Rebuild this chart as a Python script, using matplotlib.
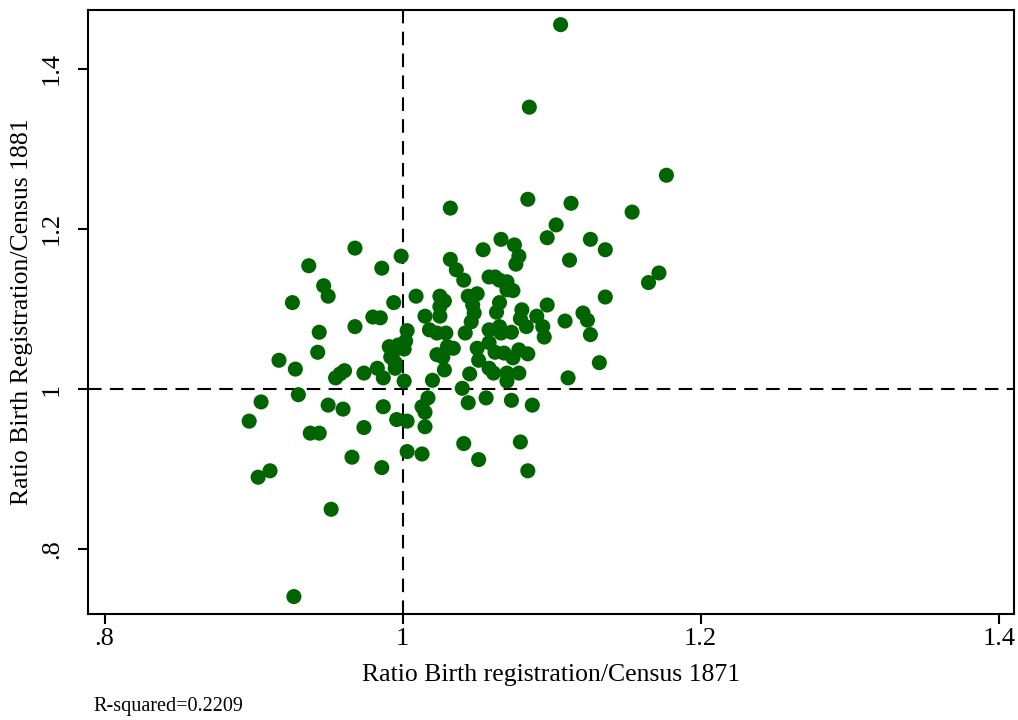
import numpy as np
import matplotlib.pyplot as plt

plt.rcParams['font.family'] = ['Liberation Serif', 'DejaVu Serif']

# ratio of birth registrations to census counts, per district
ratio_1871 = [
    1.106, 1.085, 1.177, 1.084, 1.032, 1.113, 1.103, 1.154, 1.097, 1.066,
    1.075, 1.126, 1.136, 1.054, 0.968, 0.999, 0.937, 0.986, 1.078, 1.076,
    1.112, 1.032, 1.036, 1.041, 1.058, 1.062, 1.065, 1.070, 1.074, 1.070,
    1.172, 1.165, 0.947, 0.950, 0.926, 1.009, 0.994, 0.980, 0.985, 0.968,
    0.944, 1.003, 1.025, 1.028, 1.025, 1.025, 1.044, 1.050, 1.047, 1.048,
    1.046, 1.065, 1.063, 1.097, 1.136, 1.015, 1.080, 1.079, 1.083, 1.090,
    1.094, 1.095, 1.109, 1.121, 1.124, 1.126, 1.018, 1.023, 1.029, 1.042,
    1.058, 1.065, 1.066, 1.073, 1.058, 1.062, 1.050, 1.051, 1.030, 1.034,
    1.023, 1.027, 1.028, 1.068, 1.078, 1.084, 1.074, 1.132, 1.045, 1.058,
    1.061, 1.070, 1.070, 1.078, 1.020, 1.111, 1.040, 1.044, 1.056, 1.073,
    1.087, 1.017, 1.015, 1.015, 1.013, 0.991, 0.997, 1.002, 1.001, 0.993,
    0.992, 0.995, 0.943, 0.917, 0.928, 0.961, 0.958, 0.955, 0.974, 0.983,
    0.987, 0.995, 1.001, 0.905, 0.930, 0.950, 0.960, 0.987, 0.897, 0.996,
    1.003, 0.974, 0.938, 0.944, 1.041, 1.079, 1.003, 1.013, 0.966, 1.051,
    0.911, 0.903, 0.986, 1.084, 0.952, 0.927,
]
ratio_1881 = [
    1.455, 1.352, 1.267, 1.237, 1.226, 1.232, 1.205, 1.221, 1.189, 1.187,
    1.180, 1.187, 1.174, 1.174, 1.176, 1.166, 1.154, 1.151, 1.166, 1.156,
    1.161, 1.162, 1.149, 1.136, 1.140, 1.140, 1.136, 1.134, 1.123, 1.124,
    1.145, 1.133, 1.129, 1.116, 1.108, 1.116, 1.108, 1.090, 1.089, 1.078,
    1.071, 1.073, 1.116, 1.110, 1.103, 1.091, 1.116, 1.119, 1.105, 1.095,
    1.084, 1.108, 1.096, 1.105, 1.115, 1.091, 1.099, 1.088, 1.078, 1.091,
    1.078, 1.065, 1.085, 1.095, 1.086, 1.068, 1.074, 1.070, 1.070, 1.070,
    1.074, 1.078, 1.070, 1.071, 1.058, 1.046, 1.051, 1.036, 1.053, 1.051,
    1.043, 1.040, 1.024, 1.045, 1.049, 1.044, 1.039, 1.033, 1.019, 1.026,
    1.020, 1.020, 1.010, 1.020, 1.011, 1.014, 1.001, 0.983, 0.989, 0.986,
    0.980, 0.989, 0.971, 0.953, 0.978, 1.053, 1.055, 1.060, 1.050, 1.043,
    1.040, 1.033, 1.046, 1.036, 1.025, 1.023, 1.019, 1.014, 1.020, 1.026,
    1.014, 1.026, 1.010, 0.984, 0.993, 0.980, 0.975, 0.978, 0.960, 0.962,
    0.960, 0.952, 0.945, 0.945, 0.932, 0.934, 0.922, 0.919, 0.915, 0.912,
    0.898, 0.890, 0.902, 0.898, 0.850, 0.741,
]
r_squared = 0.2209

tick_vals = [0.8, 1.0, 1.2, 1.4]
tick_labels = ['.8', '1', '1.2', '1.4']

fig = plt.figure(figsize=(10.18, 7.2), dpi=100)
ax = fig.add_axes([0.0864, 0.1472, 0.9097, 0.8389])

ax.scatter(ratio_1871, ratio_1881, s=118, color='#006400', edgecolors='none', zorder=3)

# reference lines at ratio = 1
ax.axvline(1, color='black', lw=1.5, dashes=(6.5, 4), zorder=2)
ax.axhline(1, color='black', lw=1.5, dashes=(6.5, 4), zorder=2)

ax.set_xlim(0.7888, 1.4103)
ax.set_ylim(0.7192, 1.4733)

ax.set_xticks(tick_vals)
ax.set_xticklabels(tick_labels)
ax.set_yticks(tick_vals)
ax.set_yticklabels(tick_labels, rotation=90, va='center')

ax.tick_params(axis='both', direction='out', length=7, width=1.5, labelsize=19)
ax.tick_params(axis='x', pad=3)
ax.tick_params(axis='y', pad=11)
for sp in ax.spines.values():
    sp.set_linewidth(1.5)

ax.set_xlabel('Ratio Birth registration/Census 1871', fontsize=18.5, labelpad=10)
ax.set_ylabel('Ratio Birth Registration/Census 1881', fontsize=18.5, labelpad=6)

fig.text(93 / 1018, 1 - 706 / 720, f'R-squared={r_squared}', fontsize=14.5, va='center', ha='left')

fig.savefig('out.png', dpi=100)
